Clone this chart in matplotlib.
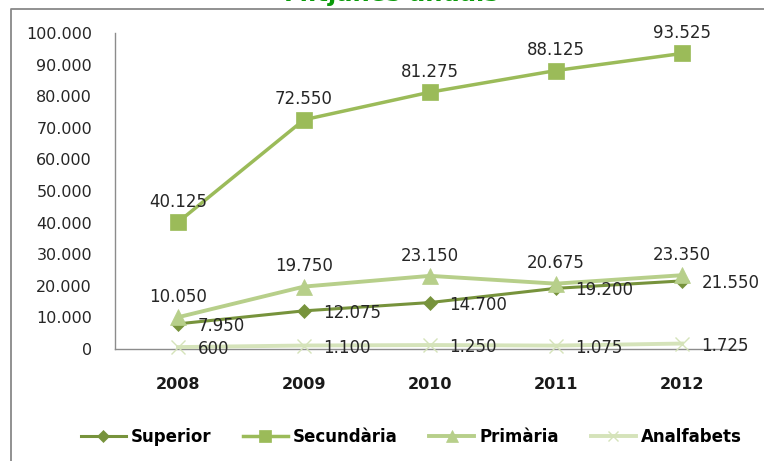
import matplotlib
matplotlib.use("Agg")
import matplotlib.pyplot as plt
from matplotlib.lines import Line2D

# data
anys = ["2008", "2009", "2010", "2011", "2012"]
superior = [7950, 12075, 14700, 19200, 21550]
secundaria = [40125, 72550, 81275, 88125, 93525]
primaria = [10050, 19750, 23150, 20675, 23350]
analfabets = [600, 1100, 1250, 1075, 1725]
y_ticks = [0, 10000, 20000, 30000, 40000, 50000, 60000, 70000, 80000, 90000, 100000]

plt.rcParams['font.family'] = ['DejaVu Sans']

def fmt(v):
    return f"{v:,}".replace(",", ".")

W, H = 764, 461
fig = plt.figure(figsize=(W/100, H/100), dpi=100)

# outer frame, only left and top edges are in the picture
fx, fy = 11/W, 1 - 9/H
fig.add_artist(Line2D([fx, fx, 1.05], [-0.05, fy, fy], transform=fig.transFigure,
                      color='#888888', lw=1.3))

# title, mostly cut off at top
fig.text(391/W, 1 - 1.5/H, "Mitjanes anuals", ha='center', va='baseline',
         fontsize=17.5, fontweight='bold', color='#0A9A0A')

ax = fig.add_axes([115/W, 1 - 349/H, 630/W, 316/H])
x = list(range(len(anys)))

series = [
    ("Superior", superior, '#77933C', 'D', 7.5, 2.2, 'right'),
    ("Secundària", secundaria, '#9BBB59', 's', 11, 2.5, 'above'),
    ("Primària", primaria, '#B7CF8A', '^', 11, 2.8, 'above'),
    ("Analfabets", analfabets, '#D5E3BA', 'x', 10, 2.8, 'right'),
]

handles = []
for i, (nom, vals, col, mk, ms, lw, pos) in enumerate(series):
    ln, = ax.plot(x, vals, color=col, marker=mk, markersize=ms, lw=lw,
                  markeredgewidth=1.0 if mk == 'x' else 0.5,
                  markeredgecolor=col, label=nom, clip_on=False, zorder=3 + i)
    handles.append(ln)
    for xi, v in zip(x, vals):
        if pos == 'above':
            ax.annotate(fmt(v), (xi, v), xytext=(0, 11), textcoords='offset points',
                        ha='center', va='baseline', fontsize=12, color='#262626',
                        zorder=10, annotation_clip=False)
        else:
            ax.annotate(fmt(v), (xi, v), xytext=(14, -1.5), textcoords='offset points',
                        ha='left', va='center', fontsize=12, color='#262626',
                        zorder=10, annotation_clip=False)

ax.set_xlim(-0.5, len(anys) - 0.5)
ax.set_ylim(0, 100000)
ax.set_xticks(x)
ax.set_xticklabels(anys, fontweight='bold', fontsize=11.5)
ax.set_yticks(y_ticks)
ax.set_yticklabels([fmt(v) for v in y_ticks], fontsize=11.5)
ax.tick_params(axis='x', length=0, pad=20, colors='#1a1a1a')
ax.tick_params(axis='y', length=0, pad=16.5, colors='#262626')
for s in ['top', 'right']:
    ax.spines[s].set_visible(False)
for s in ['left', 'bottom']:
    ax.spines[s].set_color('#8c8c8c')
    ax.spines[s].set_linewidth(1)

fig.legend(handles=handles, loc='center', bbox_to_anchor=(411/W, 1 - 437/H),
           ncol=4, frameon=False, handlelength=2.7, handletextpad=0.3,
           columnspacing=1.9, markerscale=0.75,
           prop={'weight': 'bold', 'size': 12})

fig.savefig("out.png", dpi=100)
